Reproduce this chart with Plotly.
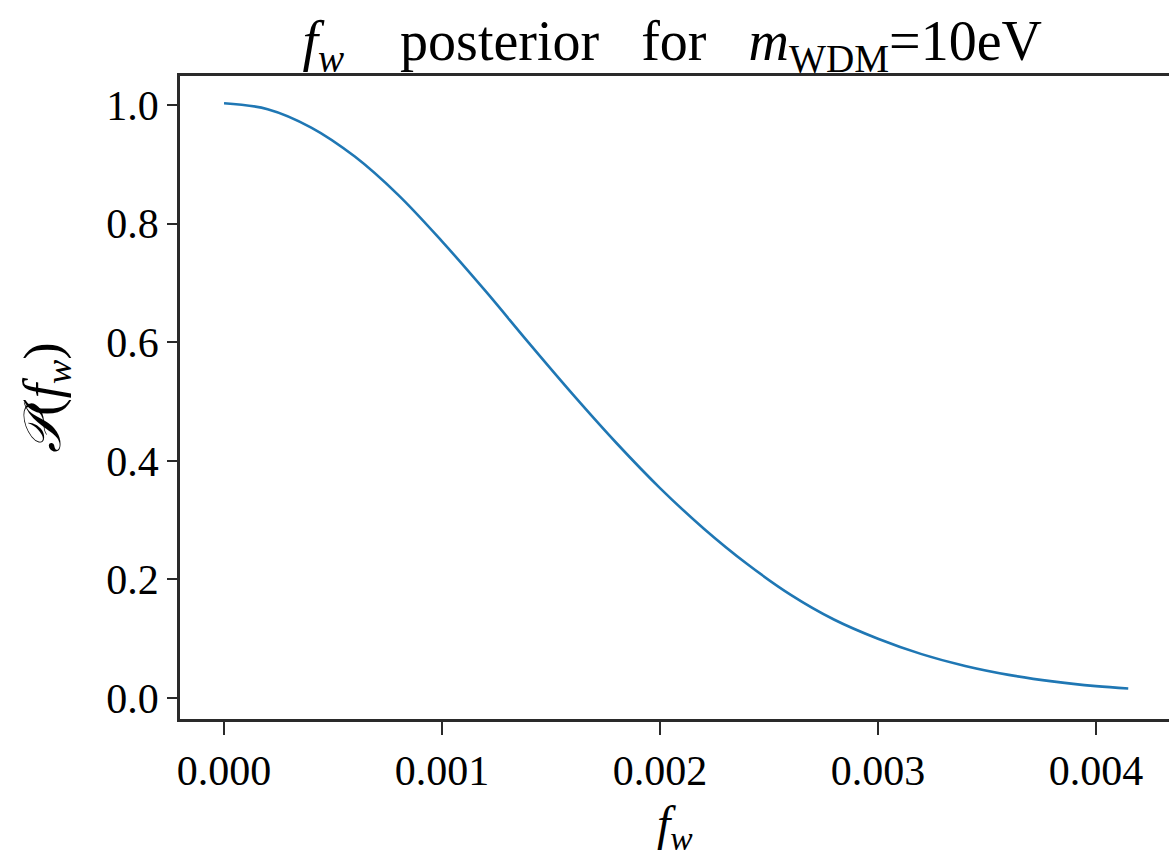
import plotly.graph_objects as go

# values
f_w = [0.0, 0.0002, 0.0004, 0.0006, 0.0008, 0.0010, 0.0012, 0.0014, 0.0016,
       0.0018, 0.0020, 0.0022, 0.0024, 0.0026, 0.0028, 0.0030, 0.0032,
       0.0034, 0.0036, 0.0038, 0.0040, 0.004148]
posterior = [1.003, 0.993, 0.962, 0.913, 0.848, 0.770, 0.686, 0.598, 0.512,
             0.430, 0.354, 0.286, 0.226, 0.174, 0.132, 0.100, 0.074,
             0.054, 0.039, 0.028, 0.020, 0.016]

x_ticks = [0.0, 0.001, 0.002, 0.003, 0.004]
x_tick_labels = ["0.000", "0.001", "0.002", "0.003", "0.004"]
y_ticks = [0.0, 0.2, 0.4, 0.6, 0.8, 1.0]
y_tick_labels = ["0.0", "0.2", "0.4", "0.6", "0.8", "1.0"]

FONT = "Liberation Serif, Times New Roman, serif"
AX = "#2a2a2a"
NB = "\u00a0"

fig = go.Figure()
fig.add_trace(go.Scatter(x=f_w, y=posterior, mode="lines",
                         line=dict(color="#1f77b4", width=2.6, shape="spline", smoothing=1.0),
                         showlegend=False, hoverinfo="skip"))

title = ("<i>f</i><sub><i>w</i></sub>" + NB * 4 + "posterior" + NB * 3 + "for" + NB * 3 +
         "<i>m</i><sub>WDM</sub>" + "=" + "10eV")

fig.update_layout(
    width=1169, height=859,
    margin=dict(l=180, r=0, t=76, b=140),
    paper_bgcolor="white", plot_bgcolor="white",
    font=dict(family=FONT, size=42, color="black"),
    title=dict(text=title, x=0.575, xanchor="center", y=0.953, yanchor="middle",
               font=dict(family=FONT, size=56, color="black")),
    xaxis=dict(range=[-0.000202, 0.004335], tickmode="array", tickvals=x_ticks,
               ticktext=x_tick_labels, showgrid=False, zeroline=False,
               showline=True, linecolor=AX, linewidth=2.5, mirror=True,
               ticks="outside", ticklen=13, tickwidth=2, tickcolor=AX,
               tickfont=dict(family=FONT, size=42, color="black")),
    yaxis=dict(range=[-0.0354, 1.0489], tickmode="array", tickvals=y_ticks,
               ticktext=y_tick_labels, showgrid=False, zeroline=False,
               showline=True, linecolor=AX, linewidth=2.5, mirror=False,
               ticks="outside", ticklen=10, tickwidth=2, tickcolor=AX,
               tickfont=dict(family=FONT, size=42, color="black"),
               title=dict(text="<i>\U0001D4AB</i>(<i>f</i><sub><i>w</i></sub>)", standoff=30,
                          font=dict(family=FONT, size=52, color="black"))),
    annotations=[dict(text="<i>f</i><sub><i>w</i></sub>", xref="paper", yref="paper",
                      x=0.5, y=-0.168, xanchor="center", yanchor="middle",
                      showarrow=False, font=dict(family=FONT, size=48, color="black"))],
)

fig.write_html("out.html")
